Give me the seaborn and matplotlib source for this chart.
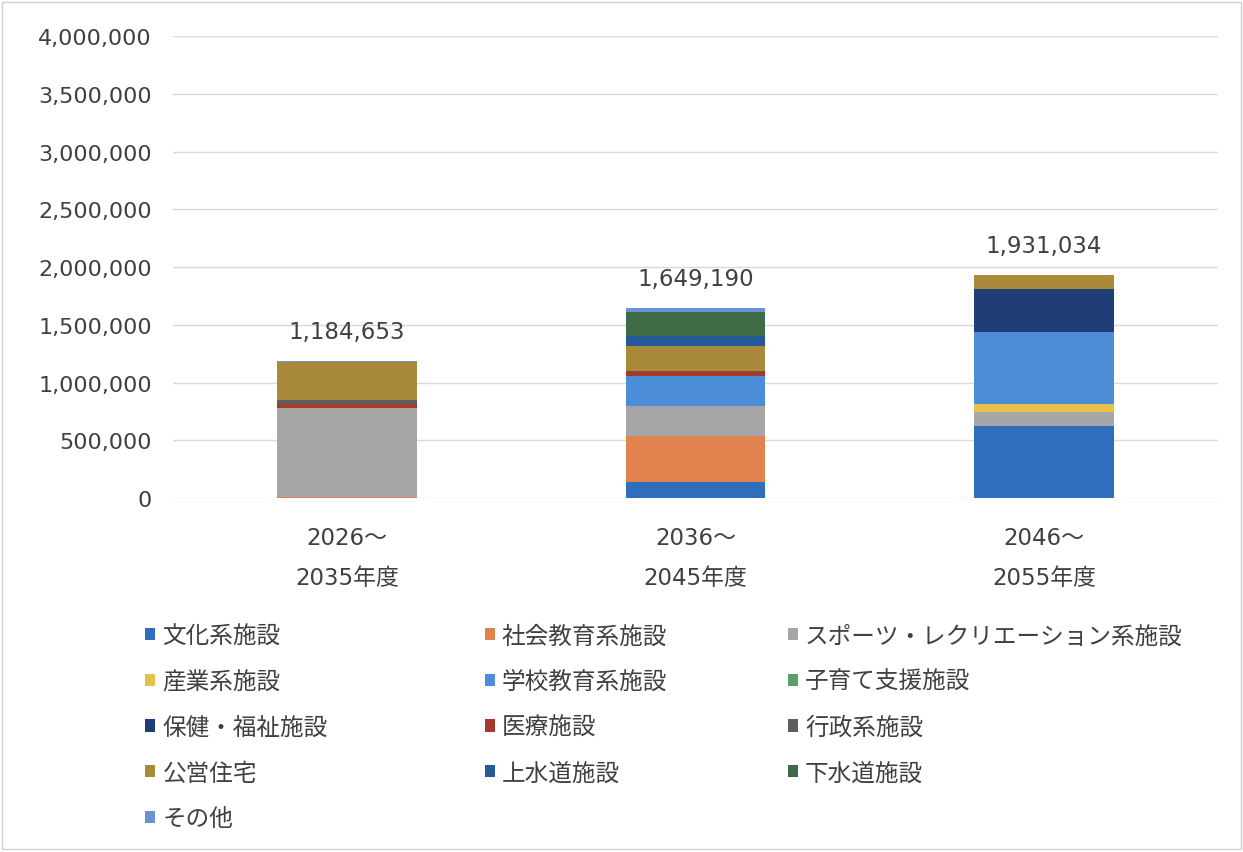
import matplotlib
matplotlib.use("Agg")
import matplotlib.pyplot as plt
from matplotlib.patches import Patch, Rectangle
from matplotlib.ticker import StrMethodFormatter
import pandas as pd
import seaborn as sns

# Periods (fiscal-year ranges)
periods = ["2026～\n2035年度", "2036～\n2045年度", "2046～\n2055年度"]

# Facility categories, listed from the bottom of each stack to the top
facilities = [
    "文化系施設", "社会教育系施設", "スポーツ・レクリエーション系施設",
    "産業系施設", "学校教育系施設", "子育て支援施設",
    "保健・福祉施設", "医療施設", "行政系施設",
    "公営住宅", "上水道施設", "下水道施設", "その他",
]

# Cost per facility category for each period (one value per period)
bunka      = [0,       136000,  626000]
shakai     = [12000,   404000,  0]
sports     = [770000,  260000,  115000]
sangyo     = [0,       0,       72000]
gakko      = [0,       254000,  626000]
kosodate   = [0,       0,       0]
hoken      = [0,       0,       375000]
iryo       = [28000,   48000,   0]
gyosei     = [35000,   0,       0]
koei       = [331653,  217000,  117034]
josui      = [0,       87000,   0]
gesui      = [0,       202000,  0]
sonota     = [8000,    41190,   0]

series = [bunka, shakai, sports, sangyo, gakko, kosodate, hoken,
          iryo, gyosei, koei, josui, gesui, sonota]

colors = [
    "#2F6DBD", "#E0834F", "#A6A6A6", "#E9C04A", "#4C8DD8", "#5A9E6A",
    "#1F3E78", "#A23B2E", "#5E5E5E", "#A88A3A", "#245A9A", "#3E6A45",
    "#6A93D6",
]
palette = dict(zip(facilities, colors))

rows = []
for name, vals in zip(facilities, series):
    for period, v in zip(periods, vals):
        rows.append({"period": period, "facility": name, "value": v})
df = pd.DataFrame(rows)
df["period"] = pd.Categorical(df["period"], categories=periods, ordered=True)

sns.set_theme(style="white")
plt.rcParams["font.family"] = ["DejaVu Sans", "Noto Sans CJK JP"]

fig = plt.figure(figsize=(12.43, 8.53), dpi=100)
ax = fig.add_axes([0.139, 0.415, 0.841, 0.5415])

# seaborn stacks the first hue level on top, so pass the order reversed
sns.histplot(
    data=df, x="period", weights="value", hue="facility",
    hue_order=facilities[::-1], palette=palette,
    multiple="stack", discrete=True, shrink=0.4,
    alpha=1, linewidth=0, legend=False, ax=ax,
)

ax.set_xlim(-0.5, 2.5)
ax.set_ylim(0, 4000000)
ax.set_yticks(range(0, 4000001, 500000))
ax.yaxis.set_major_formatter(StrMethodFormatter("{x:,.0f}"))
ax.set_xticks(range(len(periods)))
ax.set_xticklabels(periods, linespacing=1.95)
ax.set_xlabel("")
ax.set_ylabel("")
ax.grid(axis="y", color="#D9D9D9", linewidth=1)
ax.set_axisbelow(True)
for s in ax.spines.values():
    s.set_visible(False)
ax.tick_params(axis="y", labelsize=16, labelcolor="#404040", length=0, pad=15)
ax.tick_params(axis="x", labelsize=16.5, labelcolor="#404040", length=0, pad=20)

# Period totals above each stack
totals = [sum(s[i] for s in series) for i in range(len(periods))]
for i, t in enumerate(totals):
    ax.annotate(f"{t:,}", xy=(i, t), xytext=(0, 13), textcoords="offset points",
                ha="center", va="bottom", fontsize=16.5, color="#404040")

# Legend laid out row by row in three columns
handles = [Patch(facecolor=palette[f], edgecolor="none") for f in facilities]
col_x = [0.117, 0.390, 0.634]
for c in range(3):
    idx = list(range(c, len(facilities), 3))
    fig.legend(
        [handles[i] for i in idx], [facilities[i] for i in idx],
        loc="upper left", bbox_to_anchor=(col_x[c], 0.268),
        frameon=False, fontsize=17, handlelength=0.42, handleheight=0.42,
        handletextpad=0.3, labelspacing=0.92, borderpad=0, borderaxespad=0,
        labelcolor="#404040",
    )

# Thin chart-area border
fig.add_artist(Rectangle((0.002, 0.003), 0.996, 0.994, transform=fig.transFigure,
                         fill=False, edgecolor="#D0D0D0", linewidth=1))

fig.savefig("out.png", dpi=100)
